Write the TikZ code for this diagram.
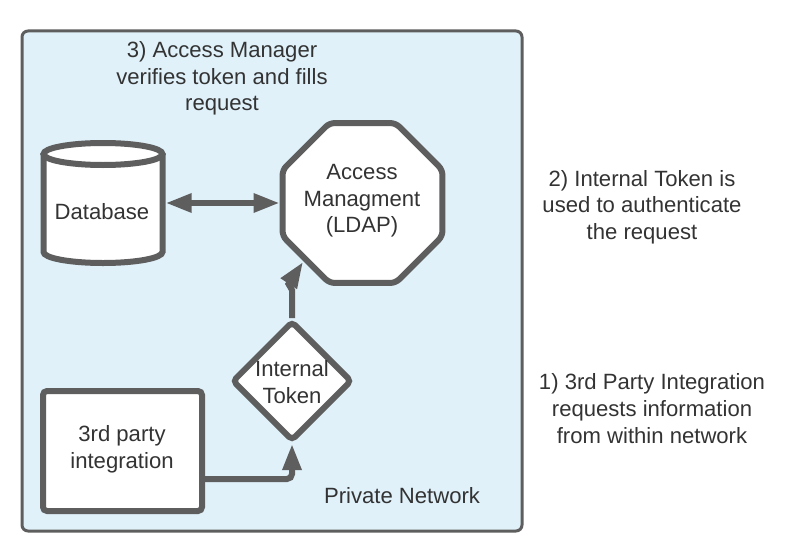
\documentclass[tikz,border=0pt]{standalone}
\usepackage{fontspec}
\setmainfont{Liberation Sans}
\usetikzlibrary{arrows.meta,shapes.geometric}
\definecolor{lineGray}{HTML}{5E5E5E}
\definecolor{textGray}{HTML}{333333}
\definecolor{panelBlue}{HTML}{E0F1FA}
\tikzset{
	label text/.style={text=textGray,align=center,inner sep=0pt,font=\fontsize{22.1}{26.6}\selectfont},
	shape line/.style={draw=lineGray,line width=6pt,fill=white,inner sep=0pt,outer sep=3pt},
	link/.style={draw=lineGray,line width=6pt,>={Triangle[length=26pt,width=18pt]}}
}
\begin{document}
\begin{tikzpicture}[x=1pt,y=-1pt]
	\useasboundingbox (0,0) rectangle (791,551);
	\node(Panel) at (272,281)[draw=lineGray,line width=3pt,fill=panelBlue,rounded corners=6pt,minimum width=500pt,minimum height=500pt,inner sep=0pt]{};
	\node(Database) at (103,203)[inner sep=0pt,minimum width=125pt,minimum height=126pt]{};
	\draw [shape line] (43.5,154) -- (43.5,252) arc[start angle=180,end angle=360,x radius=59.5pt,y radius=11pt] -- (162.5,154);
	\draw [shape line] (103,154) ellipse[x radius=59.5pt,y radius=11pt];
	\node(Access) at (362.5,203)[shape line,regular polygon,regular polygon sides=8,minimum size=173pt,rounded corners=5pt]{};
	\node(Token) at (292,381)[shape line,diamond,aspect=1,minimum width=120pt,minimum height=120pt,rounded corners=4pt]{};
	\node(Party) at (122.5,451)[shape line,rounded corners=4pt,minimum width=159pt,minimum height=120pt]{};
	\coordinate(Neck) at (292,290);
	\coordinate(Bend) at (288.5,284);
	\coordinate(Tip) at (303,262);
	\draw [link,<->] (Database.east) -- (Access.west);
	\draw [link,->] (Token.north) -- (Neck) -- (Bend) -- (Tip);
	\draw [link,->,rounded corners=5pt] ([yshift=-28pt]Party.east) -| (Token.south);
	\node(DatabaseText) at (102,212)[label text]{Database};
	\node(AccessText) at (362,201)[label text]{Access\\Managment\\(LDAP)};
	\node(TokenText) at (292,382)[label text]{Internal\\Token};
	\node(PartyText) at (122,449.5)[label text]{3rd party\\integration};
	\node(PanelText) at (402,496)[label text]{Private Network};
	\node(StepThree) at (222,78.5)[label text]{3) Access Manager\\verifies token and fills\\request};
	\node(StepTwo) at (642,207)[label text]{2) Internal Token is\\used to authenticate\\the request};
	\node(StepOne) at (652,408.5)[label text]{1) 3rd Party Integration\\requests information\\from within network};
\end{tikzpicture}
\end{document}
